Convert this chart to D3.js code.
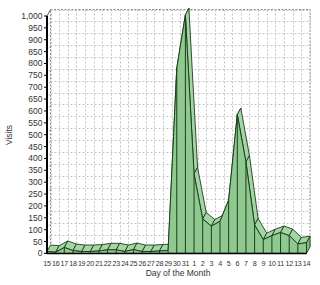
<!DOCTYPE html>
<html><head><meta charset="utf-8">
<script src="https://cdn.jsdelivr.net/npm/d3@7/dist/d3.min.js"></script>
<style>
html,body{margin:0;padding:0;background:#fff;}
svg{display:block;font-family:"Liberation Sans",Arial,sans-serif;}
</style></head><body>
<svg id="c" width="320" height="285"></svg>
<script>
const days = ["15","16","17","18","19","20","21","22","23","24","25","26","27","28","29","30","31",
              "1","2","3","4","5","6","7","8","9","10","11","12","13","14"];
const visits = [8,5,25,12,8,8,10,15,15,8,16,8,8,10,12,780,1005,
                335,145,115,135,225,585,385,120,58,75,88,75,40,45];
const yTicks = d3.range(0,1001,50);

(function(){
const svg = d3.select("#c");
const dx = 3.5, dy = 6.5;
const x = d3.scalePoint().domain(d3.range(days.length)).range([47,306.5]);
const y = d3.scaleLinear().domain([0,1000]).range([253.4,16]);
const x0 = x(0), x1 = x(days.length-1), yb = y(0), yt = y(1000);

const wall = svg.append("g");
wall.append("rect").attr("x",x0+dx).attr("y",yt-dy).attr("width",x1-x0).attr("height",yb-yt)
  .attr("fill","#fff").attr("stroke","#8a8a8a").attr("stroke-width",1).attr("stroke-dasharray","2,1.5");
const grid = wall.append("g").attr("stroke","#c4c4c4").attr("stroke-width",1).attr("stroke-dasharray","2,2");
yTicks.forEach(t=>{
  grid.append("line").attr("x1",x0+dx).attr("x2",x1+dx).attr("y1",Math.round(y(t)-dy)+0.5).attr("y2",Math.round(y(t)-dy)+0.5);
  grid.append("line").attr("x1",x0).attr("x2",x0+dx).attr("y1",y(t)).attr("y2",y(t)-dy);
});
days.forEach((d,i)=>{
  grid.append("line").attr("x1",Math.round(x(i)+dx)+0.5).attr("x2",Math.round(x(i)+dx)+0.5).attr("y1",yt-dy).attr("y2",yb-dy);
});
svg.append("line").attr("x1",x0).attr("y1",yt).attr("x2",x0+dx).attr("y2",yt-dy).attr("stroke","#666");

const dark = "#1e3d1e", frontCol = "#8fc98f", topCol = "#a3d6a3";
const pts = visits.map((v,i)=>[x(i), y(v)]);
const area = svg.append("g");
for(let i=0;i<pts.length-1;i++){
  const a=pts[i], b=pts[i+1];
  area.append("path").attr("d",`M${a[0]},${a[1]}L${b[0]},${b[1]}L${b[0]+dx},${b[1]-dy}L${a[0]+dx},${a[1]-dy}Z`)
    .attr("fill",topCol).attr("stroke",dark).attr("stroke-width",0.9).attr("stroke-linejoin","round");
}
const L = pts[pts.length-1];
area.append("path").attr("d",`M${L[0]},${L[1]}L${L[0]+dx},${L[1]-dy}L${L[0]+dx},${yb-dy}L${L[0]},${yb}Z`)
  .attr("fill","#7fbf7f").attr("stroke",dark).attr("stroke-width",0.9);
const areaGen = d3.area().x((d,i)=>x(i)).y0(yb).y1(d=>y(d));
area.append("path").attr("d",areaGen(visits)).attr("fill",frontCol).attr("stroke",dark).attr("stroke-width",1);
visits.forEach((v,i)=>{
  area.append("line").attr("x1",x(i)).attr("x2",x(i)).attr("y1",y(v)).attr("y2",yb).attr("stroke",dark).attr("stroke-width",1);
});

svg.append("line").attr("x1",x0).attr("x2",x0).attr("y1",yb+0.5).attr("y2",yt).attr("stroke","#000").attr("stroke-width",2);
svg.append("line").attr("x1",x0).attr("x2",x1).attr("y1",yb).attr("y2",yb).attr("stroke","#000").attr("stroke-width",1.5);
const yl = svg.append("g").attr("font-size","8.5px").attr("fill","#333").attr("text-anchor","end");
yTicks.forEach(t=>{
  svg.append("line").attr("x1",x0-3).attr("x2",x0).attr("y1",y(t)).attr("y2",y(t)).attr("stroke","#000");
  yl.append("text").attr("x",42.5).attr("y",y(t)+3).text(d3.format(",")(t));
});
const xl = svg.append("g").attr("font-size","7.2px").attr("fill","#333").attr("text-anchor","middle").attr("letter-spacing","-0.3");
days.forEach((d,i)=>{ xl.append("text").attr("x",x(i)).attr("y",266).text(d); });
svg.append("text").attr("x",178).attr("y",276).attr("text-anchor","middle").attr("font-size","8.5px").attr("fill","#333").text("Day of the Month");
svg.append("text").attr("transform","translate(12,135) rotate(-90)").attr("text-anchor","middle").attr("font-size","8.5px").attr("fill","#333").text("Visits");
})();
</script></body></html>
